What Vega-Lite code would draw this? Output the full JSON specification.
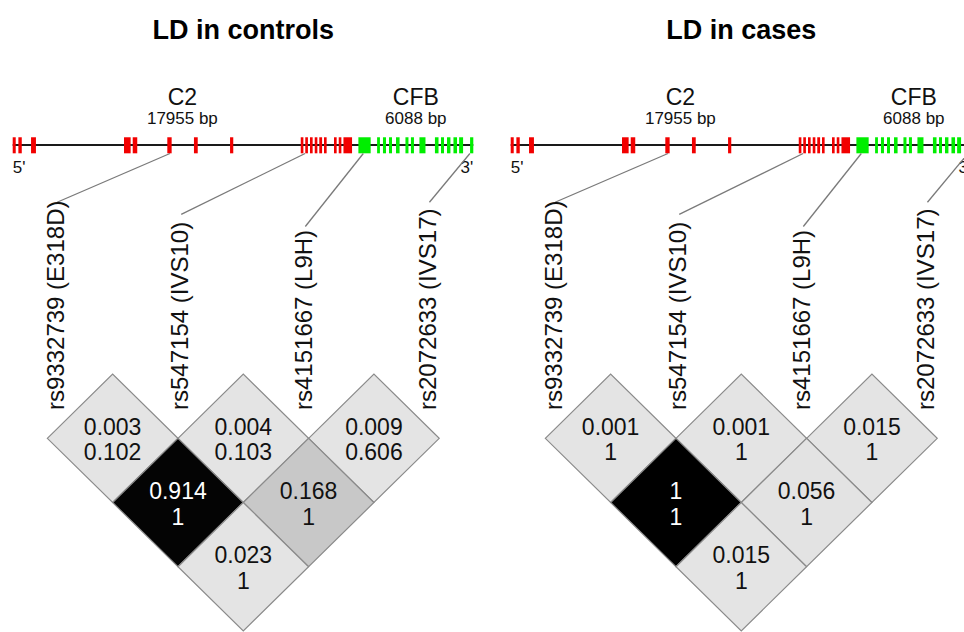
{
  "$schema": "https://vega.github.io/schema/vega-lite/v6.json",
  "width": 964,
  "height": 632,
  "autosize": {"type": "none"},
  "padding": 0,
  "background": "white",
  "config": {"view": {"stroke": null}, "font": "Liberation Sans", "text": {"font": "Liberation Sans"}},
  "datasets": {
    "genes": [
      {"gene": "C2", "length": "17955 bp", "start": 0, "end": 17.955},
      {"gene": "CFB", "length": "6088 bp", "start": 18.29, "end": 24.37}
    ],
    "exons": [
      {"gene": "C2", "start": 0, "end": 0.16},
      {"gene": "C2", "start": 0.3, "end": 0.48},
      {"gene": "C2", "start": 0.97, "end": 1.23},
      {"gene": "C2", "start": 5.89, "end": 6.24},
      {"gene": "C2", "start": 6.35, "end": 6.59},
      {"gene": "C2", "start": 8.18, "end": 8.41},
      {"gene": "C2", "start": 9.59, "end": 9.79},
      {"gene": "C2", "start": 11.5, "end": 11.67},
      {"gene": "C2", "start": 15.24, "end": 15.38},
      {"gene": "C2", "start": 15.48, "end": 15.62},
      {"gene": "C2", "start": 15.73, "end": 15.87},
      {"gene": "C2", "start": 15.98, "end": 16.12},
      {"gene": "C2", "start": 16.22, "end": 16.37},
      {"gene": "C2", "start": 16.47, "end": 16.61},
      {"gene": "C2", "start": 17.0, "end": 17.14},
      {"gene": "C2", "start": 17.25, "end": 17.39},
      {"gene": "C2", "start": 17.5, "end": 17.955},
      {"gene": "CFB", "start": 18.29, "end": 18.94},
      {"gene": "CFB", "start": 19.28, "end": 19.43},
      {"gene": "CFB", "start": 19.59, "end": 19.75},
      {"gene": "CFB", "start": 19.91, "end": 20.07},
      {"gene": "CFB", "start": 20.28, "end": 20.47},
      {"gene": "CFB", "start": 20.78, "end": 20.94},
      {"gene": "CFB", "start": 21.07, "end": 21.23},
      {"gene": "CFB", "start": 21.52, "end": 21.84},
      {"gene": "CFB", "start": 22.34, "end": 22.53},
      {"gene": "CFB", "start": 22.66, "end": 22.82},
      {"gene": "CFB", "start": 22.98, "end": 23.16},
      {"gene": "CFB", "start": 23.32, "end": 23.51},
      {"gene": "CFB", "start": 23.62, "end": 23.83},
      {"gene": "CFB", "start": 24.2, "end": 24.37}
    ],
    "snps": [
      {"idx": 1, "label": "rs9332739 (E318D)", "pos": 8.32},
      {"idx": 2, "label": "rs547154 (IVS10)", "pos": 15.47},
      {"idx": 3, "label": "rs4151667 (L9H)", "pos": 18.55},
      {"idx": 4, "label": "rs2072633 (IVS17)", "pos": 24.19}
    ],
    "ld": [
      {"panel": "controls", "snp1": 1, "snp2": 2, "r2": 0.003, "dp": 0.102},
      {"panel": "controls", "snp1": 2, "snp2": 3, "r2": 0.004, "dp": 0.103},
      {"panel": "controls", "snp1": 3, "snp2": 4, "r2": 0.009, "dp": 0.606},
      {"panel": "controls", "snp1": 1, "snp2": 3, "r2": 0.914, "dp": 1},
      {"panel": "controls", "snp1": 2, "snp2": 4, "r2": 0.168, "dp": 1},
      {"panel": "controls", "snp1": 1, "snp2": 4, "r2": 0.023, "dp": 1},
      {"panel": "cases", "snp1": 1, "snp2": 2, "r2": 0.001, "dp": 1},
      {"panel": "cases", "snp1": 2, "snp2": 3, "r2": 0.001, "dp": 1},
      {"panel": "cases", "snp1": 3, "snp2": 4, "r2": 0.015, "dp": 1},
      {"panel": "cases", "snp1": 1, "snp2": 3, "r2": 1, "dp": 1},
      {"panel": "cases", "snp1": 2, "snp2": 4, "r2": 0.056, "dp": 1},
      {"panel": "cases", "snp1": 1, "snp2": 4, "r2": 0.015, "dp": 1}
    ],
    "titles": [
      {"panel": "controls", "title": "LD in controls"},
      {"panel": "cases", "title": "LD in cases"}
    ]
  },
  "layer": [
    {
      "data": {"name": "genes"},
      "transform": [
        {"calculate": "['controls','cases']", "as": "panel"},
        {"flatten": ["panel"]},
        {"aggregate": [{"op": "min", "field": "start", "as": "s"}, {"op": "max", "field": "end", "as": "e"}], "groupby": ["panel"]},
        {"calculate": "datum.panel === 'cases' ? 26.349 : 0", "as": "off"},
        {"calculate": "datum.s + datum.off", "as": "gx"},
        {"calculate": "datum.e + datum.off", "as": "gx2"},
        {"calculate": "-3.569", "as": "gy"}
      ],
      "mark": {"type": "rule", "stroke": "#1a1a1a", "strokeWidth": 2},
      "encoding": {
        "x": {"field": "gx", "type": "quantitative", "scale": {"domain": [-0.672, 50.333], "nice": false, "zero": false}, "axis": null},
        "x2": {"field": "gx2"},
        "y": {"field": "gy", "type": "quantitative", "scale": {"domain": [-5.827, 4.017], "nice": false, "zero": false, "reverse": true}, "axis": null}
      }
    },
    {
      "data": {"name": "exons"},
      "transform": [
        {"calculate": "['controls','cases']", "as": "panel"},
        {"flatten": ["panel"]},
        {"calculate": "datum.panel === 'cases' ? 26.349 : 0", "as": "off"},
        {"calculate": "datum.start + datum.off", "as": "gx"},
        {"calculate": "datum.end + datum.off", "as": "gx2"},
        {"calculate": "-3.689", "as": "gy"},
        {"calculate": "-3.439", "as": "gy2"}
      ],
      "mark": {"type": "rect"},
      "encoding": {
        "x": {"field": "gx", "type": "quantitative", "scale": {"domain": [-0.672, 50.333], "nice": false, "zero": false}, "axis": null},
        "x2": {"field": "gx2"},
        "y": {"field": "gy", "type": "quantitative", "scale": {"domain": [-5.827, 4.017], "nice": false, "zero": false, "reverse": true}, "axis": null},
        "y2": {"field": "gy2"},
        "color": {"field": "gene", "type": "nominal", "scale": {"domain": ["C2", "CFB"], "range": ["#f20000", "#00ee00"]}, "legend": null}
      }
    },
    {
      "data": {"name": "genes"},
      "transform": [
        {"calculate": "['controls','cases']", "as": "panel"},
        {"flatten": ["panel"]},
        {"calculate": "datum.panel === 'cases' ? 26.349 : 0", "as": "off"},
        {"calculate": "(datum.start + datum.end) / 2 + datum.off", "as": "gx"},
        {"calculate": "-4.195", "as": "gy"}
      ],
      "mark": {"type": "text", "fontSize": 23, "align": "center", "baseline": "alphabetic", "color": "#111111"},
      "encoding": {
        "x": {"field": "gx", "type": "quantitative", "scale": {"domain": [-0.672, 50.333], "nice": false, "zero": false}, "axis": null},
        "y": {"field": "gy", "type": "quantitative", "scale": {"domain": [-5.827, 4.017], "nice": false, "zero": false, "reverse": true}, "axis": null},
        "text": {"field": "gene", "type": "nominal"}
      }
    },
    {
      "data": {"name": "genes"},
      "transform": [
        {"calculate": "['controls','cases']", "as": "panel"},
        {"flatten": ["panel"]},
        {"calculate": "datum.panel === 'cases' ? 26.349 : 0", "as": "off"},
        {"calculate": "(datum.start + datum.end) / 2 + datum.off", "as": "gx"},
        {"calculate": "-3.895", "as": "gy"}
      ],
      "mark": {"type": "text", "fontSize": 17, "align": "center", "baseline": "alphabetic", "color": "#111111"},
      "encoding": {
        "x": {"field": "gx", "type": "quantitative", "scale": {"domain": [-0.672, 50.333], "nice": false, "zero": false}, "axis": null},
        "y": {"field": "gy", "type": "quantitative", "scale": {"domain": [-5.827, 4.017], "nice": false, "zero": false, "reverse": true}, "axis": null},
        "text": {"field": "length", "type": "nominal"}
      }
    },
    {
      "data": {"name": "genes"},
      "transform": [
        {"calculate": "['controls','cases']", "as": "panel"},
        {"flatten": ["panel"]},
        {"aggregate": [{"op": "min", "field": "start", "as": "s"}], "groupby": ["panel"]},
        {"calculate": "datum.panel === 'cases' ? 26.349 : 0", "as": "off"},
        {"calculate": "datum.s + datum.off", "as": "gx"},
        {"calculate": "-3.132", "as": "gy"}
      ],
      "mark": {"type": "text", "fontSize": 17, "align": "left", "baseline": "alphabetic", "color": "#111111"},
      "encoding": {
        "x": {"field": "gx", "type": "quantitative", "scale": {"domain": [-0.672, 50.333], "nice": false, "zero": false}, "axis": null},
        "y": {"field": "gy", "type": "quantitative", "scale": {"domain": [-5.827, 4.017], "nice": false, "zero": false, "reverse": true}, "axis": null},
        "text": {"value": "5'"}
      }
    },
    {
      "data": {"name": "genes"},
      "transform": [
        {"calculate": "['controls','cases']", "as": "panel"},
        {"flatten": ["panel"]},
        {"aggregate": [{"op": "max", "field": "end", "as": "e"}], "groupby": ["panel"]},
        {"calculate": "datum.panel === 'cases' ? 26.349 : 0", "as": "off"},
        {"calculate": "datum.e + datum.off", "as": "gx"},
        {"calculate": "-3.132", "as": "gy"}
      ],
      "mark": {"type": "text", "fontSize": 17, "align": "right", "baseline": "alphabetic", "color": "#111111"},
      "encoding": {
        "x": {"field": "gx", "type": "quantitative", "scale": {"domain": [-0.672, 50.333], "nice": false, "zero": false}, "axis": null},
        "y": {"field": "gy", "type": "quantitative", "scale": {"domain": [-5.827, 4.017], "nice": false, "zero": false, "reverse": true}, "axis": null},
        "text": {"value": "3'"}
      }
    },
    {
      "data": {"name": "snps"},
      "transform": [
        {"calculate": "['controls','cases']", "as": "panel"},
        {"flatten": ["panel"]},
        {"calculate": "datum.panel === 'cases' ? 26.349 : 0", "as": "off"},
        {"calculate": "datum.pos + datum.off", "as": "gx"},
        {"calculate": "1.8307 + (2.5 + (datum.idx - 2.5) * 0.95 - 1) * 6.9127 + datum.off", "as": "gx2"},
        {"calculate": "-3.436", "as": "gy"},
        {"calculate": "0.559 - length(datum.label) * 0.1885 - 0.031", "as": "gy2"}
      ],
      "mark": {"type": "rule", "stroke": "#7a7a7a", "strokeWidth": 1.3},
      "encoding": {
        "x": {"field": "gx", "type": "quantitative", "scale": {"domain": [-0.672, 50.333], "nice": false, "zero": false}, "axis": null},
        "x2": {"field": "gx2"},
        "y": {"field": "gy", "type": "quantitative", "scale": {"domain": [-5.827, 4.017], "nice": false, "zero": false, "reverse": true}, "axis": null},
        "y2": {"field": "gy2"}
      }
    },
    {
      "data": {"name": "snps"},
      "transform": [
        {"calculate": "['controls','cases']", "as": "panel"},
        {"flatten": ["panel"]},
        {"calculate": "datum.panel === 'cases' ? 26.349 : 0", "as": "off"},
        {"calculate": "1.8307 + (2.5 + (datum.idx - 2.5) * 0.95 - 1) * 6.9127 + datum.off", "as": "gx"},
        {"calculate": "0.559", "as": "gy"}
      ],
      "mark": {"type": "text", "fontSize": 24, "align": "left", "baseline": "middle", "angle": 270, "color": "#111111"},
      "encoding": {
        "x": {"field": "gx", "type": "quantitative", "scale": {"domain": [-0.672, 50.333], "nice": false, "zero": false}, "axis": null},
        "y": {"field": "gy", "type": "quantitative", "scale": {"domain": [-5.827, 4.017], "nice": false, "zero": false, "reverse": true}, "axis": null},
        "text": {"field": "label", "type": "nominal"}
      }
    },
    {
      "data": {"name": "ld"},
      "transform": [
        {"calculate": "datum.panel === 'cases' ? 26.349 : 0", "as": "off"},
        {"calculate": "1.8307 + ((datum.snp1 + datum.snp2) / 2 - 1) * 6.9127 + datum.off", "as": "gx"},
        {"calculate": "datum.snp2 - datum.snp1", "as": "gy"}
      ],
      "mark": {"type": "point", "shape": "M-1,0L0,-0.983L1,0L0,0.983Z", "size": 17056, "filled": true, "opacity": 1, "stroke": "#8a8a8a", "strokeWidth": 1.2, "strokeOpacity": 1},
      "encoding": {
        "x": {"field": "gx", "type": "quantitative", "scale": {"domain": [-0.672, 50.333], "nice": false, "zero": false}, "axis": null},
        "y": {"field": "gy", "type": "quantitative", "scale": {"domain": [-5.827, 4.017], "nice": false, "zero": false, "reverse": true}, "axis": null},
        "fill": {"field": "r2", "type": "quantitative", "scale": {"domain": [0, 0.1, 0.168, 0.9, 1], "range": ["#e4e4e4", "#e2e2e2", "#c8c8c8", "#050505", "#000000"], "interpolate": "rgb"}, "legend": null}
      }
    },
    {
      "data": {"name": "ld"},
      "transform": [
        {"calculate": "datum.panel === 'cases' ? 26.349 : 0", "as": "off"},
        {"calculate": "1.8307 + ((datum.snp1 + datum.snp2) / 2 - 1) * 6.9127 + datum.off", "as": "gx"},
        {"calculate": "datum.snp2 - datum.snp1", "as": "gy"}
      ],
      "mark": {"type": "text", "fontSize": 23, "align": "center", "baseline": "middle", "dy": -10.5},
      "encoding": {
        "x": {"field": "gx", "type": "quantitative", "scale": {"domain": [-0.672, 50.333], "nice": false, "zero": false}, "axis": null},
        "y": {"field": "gy", "type": "quantitative", "scale": {"domain": [-5.827, 4.017], "nice": false, "zero": false, "reverse": true}, "axis": null},
        "text": {"field": "r2", "type": "nominal"},
        "color": {"condition": {"test": "datum.r2 > 0.5", "value": "#ffffff"}, "value": "#111111"}
      }
    },
    {
      "data": {"name": "ld"},
      "transform": [
        {"calculate": "datum.panel === 'cases' ? 26.349 : 0", "as": "off"},
        {"calculate": "1.8307 + ((datum.snp1 + datum.snp2) / 2 - 1) * 6.9127 + datum.off", "as": "gx"},
        {"calculate": "datum.snp2 - datum.snp1", "as": "gy"}
      ],
      "mark": {"type": "text", "fontSize": 23, "align": "center", "baseline": "middle", "dy": 15},
      "encoding": {
        "x": {"field": "gx", "type": "quantitative", "scale": {"domain": [-0.672, 50.333], "nice": false, "zero": false}, "axis": null},
        "y": {"field": "gy", "type": "quantitative", "scale": {"domain": [-5.827, 4.017], "nice": false, "zero": false, "reverse": true}, "axis": null},
        "text": {"field": "dp", "type": "nominal"},
        "color": {"condition": {"test": "datum.r2 > 0.5", "value": "#ffffff"}, "value": "#111111"}
      }
    },
    {
      "data": {"name": "titles"},
      "transform": [
        {"calculate": "datum.panel === 'cases' ? 26.349 : 0", "as": "off"},
        {"calculate": "1.8307 + (2.5 - 1) * 6.9127 + datum.off", "as": "gx"},
        {"calculate": "-5.227", "as": "gy"}
      ],
      "mark": {"type": "text", "fontSize": 27, "fontWeight": "bold", "align": "center", "baseline": "alphabetic", "color": "#000000"},
      "encoding": {
        "x": {"field": "gx", "type": "quantitative", "scale": {"domain": [-0.672, 50.333], "nice": false, "zero": false}, "axis": null},
        "y": {"field": "gy", "type": "quantitative", "scale": {"domain": [-5.827, 4.017], "nice": false, "zero": false, "reverse": true}, "axis": null},
        "text": {"field": "title", "type": "nominal"}
      }
    }
  ]
}
